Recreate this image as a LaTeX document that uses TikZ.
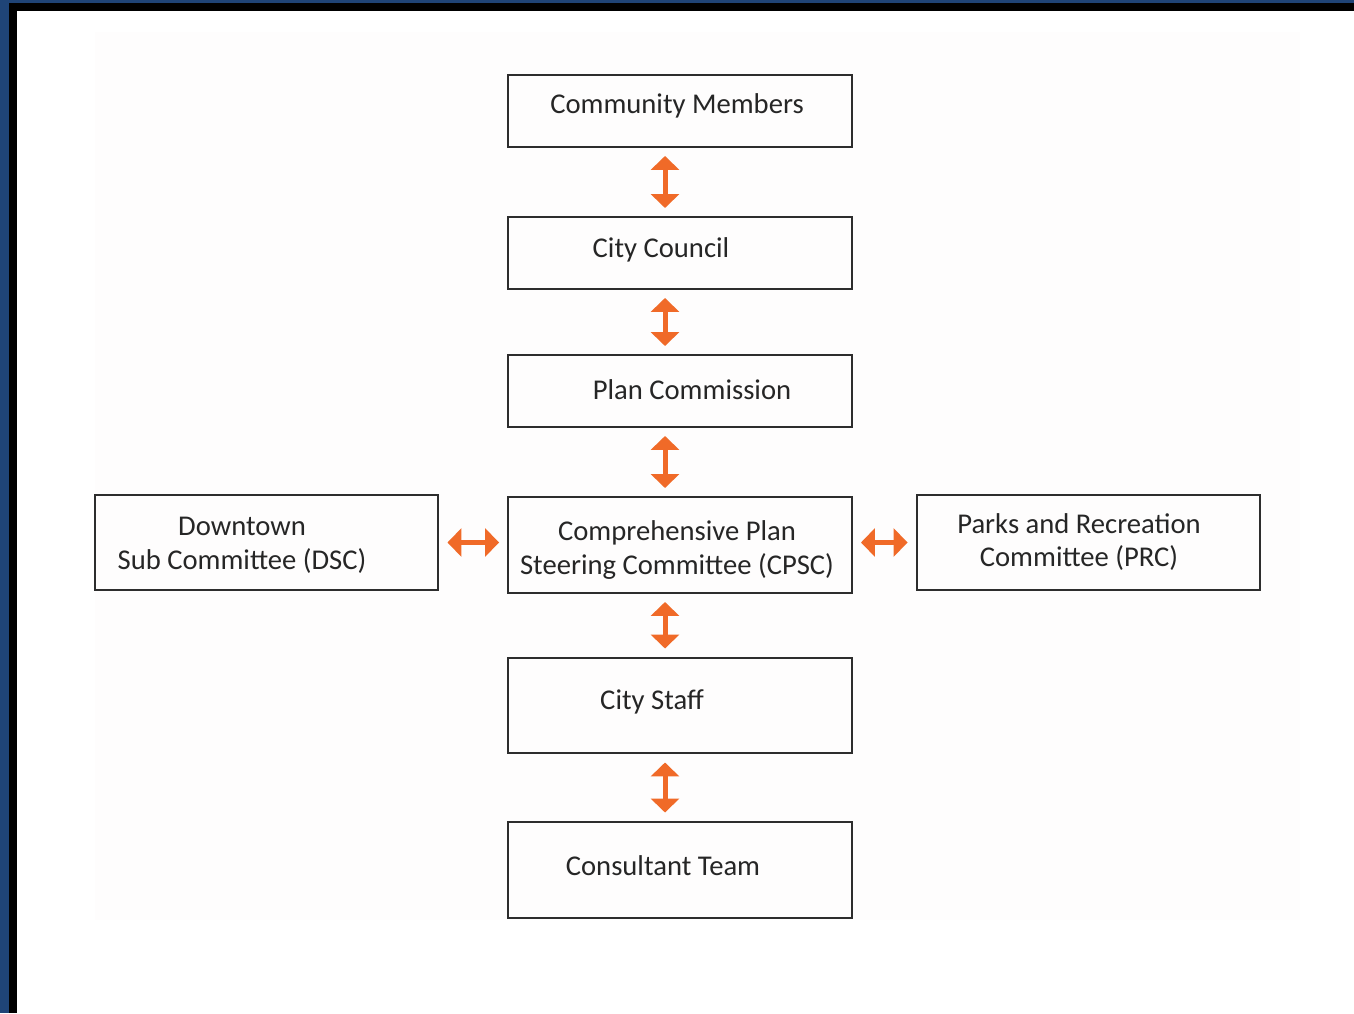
\documentclass[tikz,border=0pt]{standalone}
\usepackage{fontspec}
\setmainfont{Carlito}
\usepackage{xcolor}
\usetikzlibrary{arrows.meta}

\definecolor{frameblue}{RGB}{31,68,119}
\definecolor{arroworange}{RGB}{240,106,40}
\definecolor{boxline}{RGB}{45,45,45}
\definecolor{paper}{RGB}{254,253,253}

\tikzset{
    box/.style={draw=boxline, line width=0.04cm, minimum width=6.88cm, minimum height=1.44cm, inner sep=0pt},
    tallbox/.style={box, minimum height=1.92cm},
    boxtext/.style={font=\fontsize{16.3}{19.3}\selectfont, text=black!85, align=center, inner sep=0pt},
    twoway/.style={draw=arroworange, line width=0.1cm, {Triangle[width=0.56cm,length=0.28cm]}-{Triangle[width=0.56cm,length=0.28cm]}, shorten <=0.16cm, shorten >=0.16cm}
}

\begin{document}
\begin{tikzpicture}[x=0.02cm, y=-0.02cm]

    % Frame round the page
    \useasboundingbox (0, 0) rectangle (1354, 1013);
    \fill[frameblue] (0, 0) rectangle (1354, 1013);
    \fill[black] (9, 3) rectangle (1354, 1013);
    \fill[white] (17, 11) rectangle (1354, 1013);
    \fill[paper] (95, 32) rectangle (1300, 920);

    % Boxes in the middle column
    \node[box] (members) at (680, 111) {};
    \node[box] (council) at (680, 253) {};
    \node[box] (plan) at (680, 391) {};
    \node[tallbox] (cpsc) at (680, 545) {};
    \node[tallbox] (staff) at (680, 705.5) {};
    \node[tallbox] (consultant) at (680, 869.5) {};

    % Boxes on the sides
    \node[tallbox] (dsc) at (266.5, 542.5) {};
    \node[tallbox] (prc) at (1088.5, 542.5) {};

    % Texts
    \node[boxtext] (members-t) at (677, 106) {Community Members};
    \node[boxtext] (council-t) at (661, 250) {City Council};
    \node[boxtext] (plan-t) at (692, 390) {Plan Commission};
    \node[boxtext] (cpsc-t) at (677, 550) {Comprehensive Plan\\Steering Committee (CPSC)};
    \node[boxtext] (staff-t) at (652, 702) {City Staff};
    \node[boxtext] (consultant-t) at (663, 866) {Consultant Team};
    \node[boxtext] (dsc-t) at (242, 545) {Downtown\\Sub Committee (DSC)};
    \node[boxtext] (prc-t) at (1079, 542) {Parks and Recreation\\Committee (PRC)};

    % Arrows
    \draw[twoway] ([xshift=-0.3cm]members.south) -- ([xshift=-0.3cm]council.north);
    \draw[twoway] ([xshift=-0.3cm]council.south) -- ([xshift=-0.3cm]plan.north);
    \draw[twoway] ([xshift=-0.3cm]plan.south) -- ([xshift=-0.3cm]cpsc.north);
    \draw[twoway] ([xshift=-0.3cm]cpsc.south) -- ([xshift=-0.3cm]staff.north);
    \draw[twoway] ([xshift=-0.3cm]staff.south) -- ([xshift=-0.3cm]consultant.north);
    \draw[twoway] (dsc.east) -- (dsc.east -| cpsc.west);
    \draw[twoway] (prc.west -| cpsc.east) -- (prc.west);

\end{tikzpicture}
\end{document}
